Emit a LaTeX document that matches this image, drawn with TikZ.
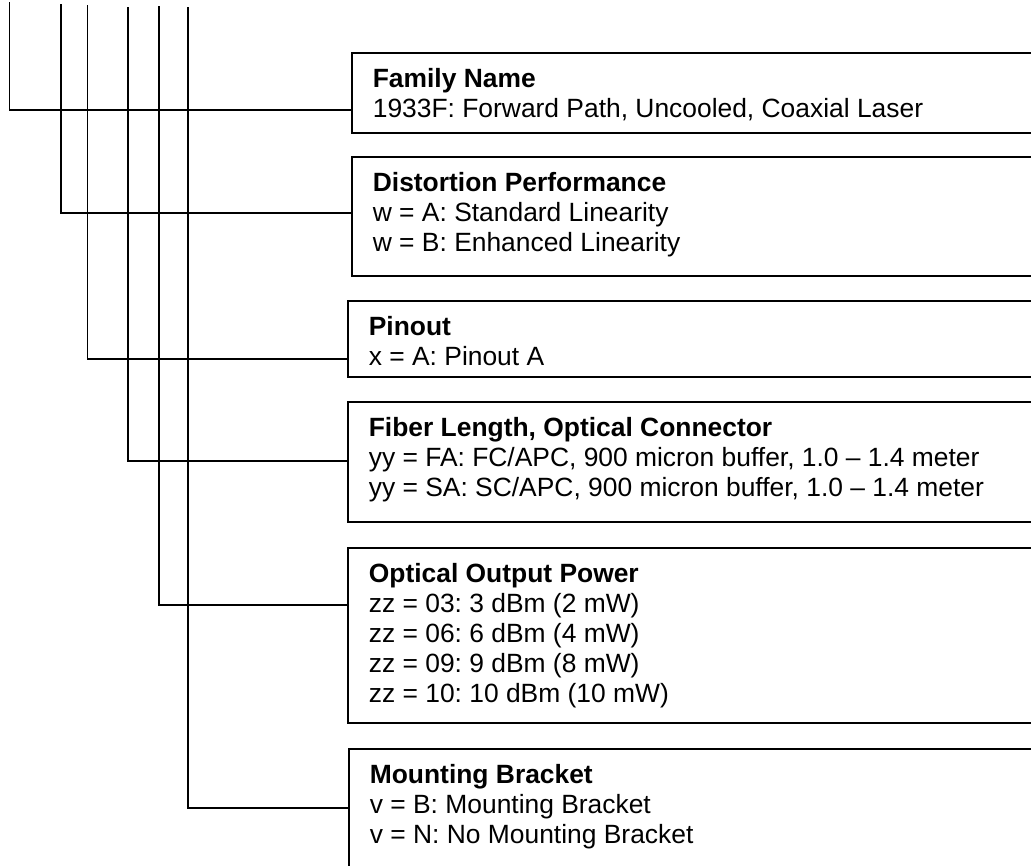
\documentclass[tikz,border=0pt]{standalone}
\usepackage{fontspec}
\setmainfont{Liberation Sans}
\frenchspacing
\newcommand\boxtitle[1]{\rule{0pt}{20pt}\textbf{#1}}
\begin{document}
\begin{tikzpicture}[x=1pt, y=-1pt, line width=1.7pt,
    box/.style={draw, anchor=north west, inner sep=0pt, minimum width=720pt},
    txt/.style={anchor=north west, inner sep=0pt, align=left, font=\fontsize{26.4}{30}\selectfont}]
\useasboundingbox (0,0) rectangle (1031,865);
\clip (0,0) rectangle (1031,865);
\node[box, minimum height=80pt] (fam) at (351,52) {};
\node[box, minimum height=119pt] (dist) at (351,156) {};
\node[box, minimum height=76pt] (pin) at (347,300) {};
\node[box, minimum height=120pt] (fib) at (347,401) {};
\node[box, minimum height=175pt] (opt) at (347,547) {};
\node[box, minimum height=160pt] (mount) at (348,748) {};
\node[txt] (famtxt) at ([xshift=21pt, yshift=-15pt]fam.north west) {\boxtitle{Family Name}\\
  1933F: Forward Path, Uncooled, Coaxial Laser};
\node[txt] (disttxt) at ([xshift=21pt, yshift=-15pt]dist.north west) {\boxtitle{Distortion Performance}\\
  w = A: Standard Linearity\\ w = B: Enhanced Linearity};
\node[txt] (pintxt) at ([xshift=21pt, yshift=-15pt]pin.north west) {\boxtitle{Pinout}\\
  x = A: Pinout A};
\node[txt] (fibtxt) at ([xshift=21pt, yshift=-15pt]fib.north west) {\boxtitle{Fiber Length, Optical Connector}\\
  yy = FA: FC/APC, 900 micron buffer, 1.0 \textendash{} 1.4 meter\\
  yy = SA: SC/APC, 900 micron buffer, 1.0 \textendash{} 1.4 meter};
\node[txt] (opttxt) at ([xshift=21pt, yshift=-15pt]opt.north west) {\boxtitle{Optical Output Power}\\
  zz = 03: 3 dBm (2 mW)\\ zz = 06: 6 dBm (4 mW)\\ zz = 09: 9 dBm (8 mW)\\ zz = 10: 10 dBm (10 mW)};
\node[txt] (mounttxt) at ([xshift=21pt, yshift=-15pt]mount.north west) {\boxtitle{Mounting Bracket}\\
  v = B: Mounting Bracket\\ v = N: No Mounting Bracket};
\coordinate (c1) at (9.5,2);
\coordinate (c2) at (61,4);
\coordinate (c3) at (87.5,5);
\coordinate (c4) at (128,7);
\coordinate (c5) at (159,6);
\coordinate (c6) at (188,7);
\draw (c1) |- ([yshift=-58pt]fam.north west);
\draw (c2) |- ([yshift=-57pt]dist.north west);
\draw (c3) |- ([yshift=-59pt]pin.north west);
\draw (c4) |- ([yshift=-60pt]fib.north west);
\draw (c5) |- ([yshift=-58pt]opt.north west);
\draw (c6) |- ([yshift=-60pt]mount.north west);
\end{tikzpicture}
\end{document}
